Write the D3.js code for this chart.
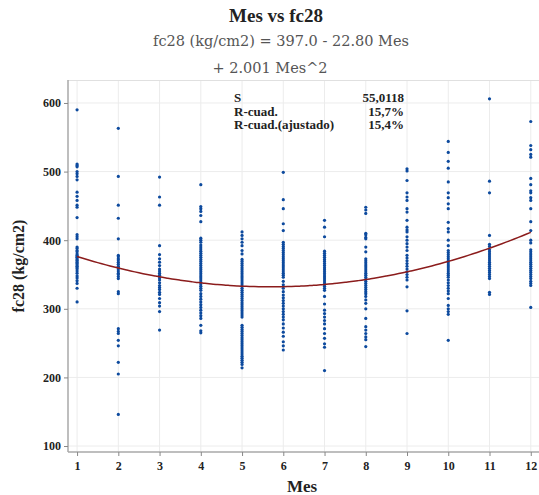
<!DOCTYPE html>
<html><head><meta charset="utf-8">
<script src="https://cdn.jsdelivr.net/npm/d3@7"></script>
<style>body{margin:0;background:#fff;} svg{display:block;}</style>
</head><body>
<script>
const months = [1,2,3,4,5,6,7,8,9,10,11,12];
const m1 = [590,511,509,507,500,497,493,488,470,464,458,451,448,433,408,405,402,390,388,385,383,380,378,376,375,373,371,370,368,366,364,362,360,358,355,352,348,345,341,337,330,310];
const m2 = [563,493,451,432,402,378,376,373,371,368,365,362,360,358,355,352,350,347,344,325,322,271,267,264,254,246,222,205,146];
const m3 = [492,463,451,392,379,373,368,363,358,355,352,349,345,342,338,334,331,328,324,321,315,309,304,296,269];
const m4 = [481,449,446,442,436,427,403,400,397,393,390,387,384,381,378,375,372,369,366,363,360,357,354,351,348,345,342,339,336,333,330,327,322,318,314,310,306,302,298,294,290,286,276,268,265];
const m5 = [412,407,402,397,392,385,380,372,369,366,363,360,357,354,351,348,345,342,339,336,333,330,327,324,321,318,315,312,309,306,303,300,297,294,291,288,276,273,270,267,264,261,258,255,252,249,246,243,240,237,234,231,228,225,222,219,214];
const m6 = [499,459,446,424,414,397,394,391,388,385,382,379,376,373,370,367,364,361,358,355,352,349,346,340,335,330,325,320,316,312,308,304,300,296,292,288,284,278,272,266,260,252,246,240];
const m7 = [429,419,405,384,381,378,375,372,369,366,363,360,357,354,351,348,345,342,339,336,333,330,327,318,307,298,293,288,283,278,271,264,257,249,244,210];
const m8 = [448,444,439,410,408,404,402,390,383,373,370,367,364,361,358,355,352,349,346,343,340,337,334,331,328,325,322,318,313,308,300,286,274,269,264,259,255,245];
const m9 = [504,501,487,469,463,458,446,441,429,419,415,412,405,400,395,390,385,378,374,370,366,362,358,354,350,346,342,332,297,264];
const m10 = [544,528,515,505,485,469,462,453,446,426,417,412,400,392,385,382,379,376,373,370,367,364,361,358,355,352,349,346,342,338,334,330,326,322,315,305,300,296,292,254];
const m11 = [606,486,469,407,394,391,386,383,380,377,374,371,368,365,362,359,356,353,350,347,344,324,321];
const m12 = [573,538,532,525,521,490,481,472,469,462,458,446,427,414,400,396,386,383,380,377,374,371,368,365,362,359,356,353,350,347,344,340,337,334,302];
const monthValues = [m1,m2,m3,m4,m5,m6,m7,m8,m9,m10,m11,m12];
const coef = [397.0, -22.80, 2.001];
const yTicks = [100,200,300,400,500,600];
const statLabels = ["S","R-cuad.","R-cuad.(ajustado)"];
const statValues = ["55,0118","15,7%","15,4%"];

const W = 539, H = 495;
const L = 68, R = 539, T = 80, B = 452;
const svg = d3.select("body").append("svg").attr("width",W).attr("height",H);
const serif = "Liberation Serif";
const serif2 = "DejaVu Serif";

const x = d3.scaleLinear().domain([0.78, 12.2]).range([L, R]);
const y = d3.scaleLinear().domain([91.3, 633.5]).range([B, T]);

// grid
const g = svg.append("g");
g.selectAll(".vg").data(months).join("line")
  .attr("x1",d=>x(d)).attr("x2",d=>x(d)).attr("y1",T).attr("y2",B)
  .attr("stroke","#ececec").attr("stroke-width",1);
g.selectAll(".hg").data(yTicks).join("line")
  .attr("x1",L).attr("x2",R).attr("y1",d=>y(d)).attr("y2",d=>y(d))
  .attr("stroke","#ececec").attr("stroke-width",1);
svg.append("line").attr("x1",L).attr("x2",R).attr("y1",T+0.5).attr("y2",T+0.5).attr("stroke","#e0e0e0");

// axes
const xAxis = d3.axisBottom(x).tickValues(months).tickSize(4).tickPadding(5).tickFormat(d3.format("d"));
const yAxis = d3.axisLeft(y).tickValues(yTicks).tickSize(4).tickPadding(3);
const gx = svg.append("g").attr("transform",`translate(0,${B})`).call(xAxis);
const gy = svg.append("g").attr("transform",`translate(${L},0)`).call(yAxis);
[gx,gy].forEach(a=>{
  a.select(".domain").attr("stroke","#a8a8a8").attr("stroke-width",1.5);
  a.selectAll(".tick line").attr("stroke","#888");
  a.selectAll("text").attr("font-family",serif).attr("font-weight","bold").attr("font-size",12).attr("fill","#222");
});
gx.select(".domain").attr("d",`M${L},0H${R}`);
gy.select(".domain").attr("d",`M0,${T}V${B}`);

// points
const pts = [];
monthValues.forEach((arr,i)=>arr.forEach(v=>pts.push([months[i],v])));
svg.append("g").selectAll("circle").data(pts).join("circle")
  .attr("cx",d=>x(d[0])).attr("cy",d=>y(d[1])).attr("r",1.6)
  .attr("fill","#0d4a9e");

// fit curve
const xs = d3.range(1, 12.001, 0.1);
const line = d3.line().x(d=>x(d)).y(d=>y(coef[0]+coef[1]*d+coef[2]*d*d)).curve(d3.curveBasis);
svg.append("path").datum(xs).attr("d",line).attr("fill","none")
  .attr("stroke","#8b1c1c").attr("stroke-width",1.5);

// stats
statLabels.forEach((s,i)=>{
  svg.append("text").attr("x",234).attr("y",102+i*13.5).text(s)
    .attr("font-family",serif).attr("font-weight","bold").attr("font-size",13).attr("fill","#222");
  svg.append("text").attr("x",404).attr("y",102+i*13.5).attr("text-anchor","end").text(statValues[i])
    .attr("font-family",serif).attr("font-weight","bold").attr("font-size",13).attr("fill","#222");
});

// titles
svg.append("text").attr("x",276).attr("y",22).attr("text-anchor","middle").text("Mes vs fc28")
  .attr("font-family",serif).attr("font-weight","bold").attr("font-size",19).attr("fill","#222");
svg.append("text").attr("x",281).attr("y",46).attr("text-anchor","middle").text("fc28 (kg/cm2) = 397.0 - 22.80 Mes")
  .attr("font-family",serif2).attr("font-weight","normal").attr("font-size",14.5).attr("fill","#555");
svg.append("text").attr("x",270).attr("y",73).attr("text-anchor","middle").text("+ 2.001 Mes^2")
  .attr("font-family",serif2).attr("font-weight","normal").attr("font-size",14.5).attr("fill","#555");

// axis labels
svg.append("text").attr("x",302).attr("y",492).attr("text-anchor","middle").text("Mes")
  .attr("font-family",serif).attr("font-weight","bold").attr("font-size",17).attr("fill","#222");
svg.append("text").attr("transform","translate(24,266) rotate(-90)").attr("text-anchor","middle").text("fc28 (kg/cm2)")
  .attr("font-family",serif).attr("font-weight","bold").attr("font-size",16).attr("fill","#222");
</script>
</body></html>
